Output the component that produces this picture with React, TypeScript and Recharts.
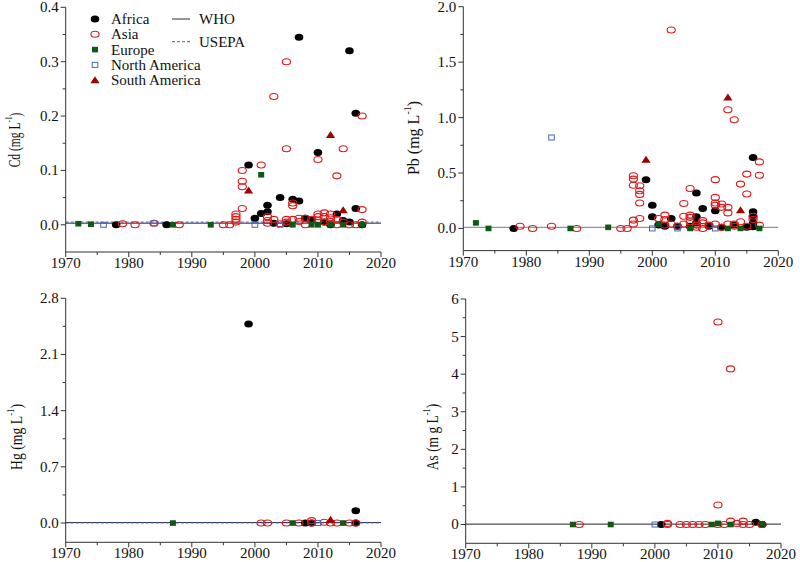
import React from 'react';
import { ScatterChart, Scatter, XAxis, YAxis, ReferenceLine, Legend } from 'recharts';

type P = [number, number];

const FONT = '"Liberation Serif", "Times New Roman", serif';
const AX = '#333';
const TXT = { fontFamily: FONT };

const regions = ['Africa', 'Asia', 'Europe', 'North America', 'South America'];
const yearTicks = [1970, 1975, 1980, 1985, 1990, 1995, 2000, 2005, 2010, 2015, 2020];
const majorYears = [1970, 1980, 1990, 2000, 2010, 2020];

// ---------- Cd ----------
const cdAfrica: P[] = [[1978,0],[1986,0],[1999,0.11],[2000,0.012],[2001,0.021],[2002,0.024],[2002,0.036],[2003,0.003],[2004,0.05],[2005,0.002],[2006,0.047],[2007,0.044],[2007,0.345],[2008,0.012],[2009,0.009],[2010,0.133],[2011,0.005],[2012,0],[2013,0.02],[2014,0.008],[2015,0.32],[2015,0.005],[2016,0.205],[2016,0.03],[2017,0]];
const cdAsia: P[] = [[1979,0.002],[1981,0],[1984,0.003],[1988,0],[1995,0],[1996,0],[1997,0.005],[1997,0.01],[1997,0.015],[1997,0.02],[1998,0.03],[1998,0.07],[1998,0.08],[1998,0.1],[2001,0.11],[2002,0.003],[2002,0.008],[2002,0.015],[2003,0.236],[2003,0.01],[2004,0.002],[2005,0.3],[2005,0.14],[2005,0.01],[2005,0.005],[2006,0.04],[2006,0.035],[2006,0.01],[2007,0.012],[2007,0.006],[2008,0],[2008,0.012],[2009,0.01],[2010,0.12],[2010,0.02],[2010,0.015],[2010,0.008],[2011,0.022],[2011,0.015],[2011,0.005],[2012,0.02],[2012,0.013],[2012,0.006],[2013,0.09],[2013,0.01],[2013,0],[2014,0.14],[2014,0.005],[2015,0],[2016,0],[2017,0.2],[2017,0.028],[2017,0.005]];
const cdEurope: P[] = [[1972,0.002],[1974,0.001],[1987,0],[1993,0],[2001,0.092],[2006,0],[2009,0],[2010,0],[2012,0],[2014,0],[2017,0]];
const cdNorthAmerica: P[] = [[1976,0],[1984,0.003],[2000,0],[2004,0]];
const cdSouthAmerica: P[] = [[1999,0.063],[2012,0.165],[2014,0.027]];
const cdTicks = [0, 0.05, 0.1, 0.15, 0.2, 0.25, 0.3, 0.35, 0.4];
const cdMajors = [0, 0.1, 0.2, 0.3, 0.4];
const cdLimits = [{ name: 'WHO', value: 0.003 }, { name: 'USEPA', value: 0.005 }];

// ---------- Pb ----------
const pbAfrica: P[] = [[1978,0],[1999,0.44],[2000,0.21],[2000,0.105],[2001,0.03],[2002,0.02],[2003,0.09],[2004,0.02],[2006,0.02],[2007,0.32],[2007,0.105],[2007,0.05],[2008,0.18],[2009,0.02],[2010,0.16],[2011,0.01],[2013,0.03],[2015,0.01],[2016,0.64],[2016,0.15],[2016,0.105],[2016,0.05],[2016,0.015]];
const pbAsia: P[] = [[1979,0.02],[1981,0],[1984,0.02],[1988,0],[1995,0],[1996,0],[1997,0.475],[1997,0.445],[1997,0.39],[1997,0.075],[1997,0.04],[1998,0.385],[1998,0.34],[1998,0.307],[1998,0.23],[1998,0.09],[2001,0.09],[2002,0.12],[2002,0.08],[2002,0.03],[2003,1.79],[2003,0.04],[2004,0.02],[2005,0.225],[2005,0.11],[2005,0.04],[2006,0.36],[2006,0.12],[2006,0.1],[2006,0.06],[2007,0.03],[2007,0.01],[2008,0.07],[2008,0.05],[2008,0],[2009,0.03],[2010,0.44],[2010,0.28],[2010,0.23],[2010,0.21],[2010,0.04],[2011,0.22],[2011,0.19],[2011,0.01],[2012,1.07],[2012,0.19],[2012,0.14],[2012,0.04],[2013,0.98],[2013,0.04],[2013,0.02],[2014,0.4],[2014,0.06],[2015,0.49],[2015,0.31],[2015,0.02],[2016,0.11],[2016,0.08],[2017,0.6],[2017,0.48],[2017,0.03]];
const pbEurope: P[] = [[1972,0.05],[1974,0],[1987,0],[1993,0.01],[2001,0.04],[2006,0],[2012,0],[2014,0],[2017,0]];
const pbNorthAmerica: P[] = [[1984,0.82],[2000,0],[2004,0],[2010,0]];
const pbSouthAmerica: P[] = [[1999,0.62],[2012,1.18],[2014,0.165]];
const pbTicks = [0, 0.25, 0.5, 0.75, 1.0, 1.25, 1.5, 1.75, 2.0];
const pbMajors = [0, 0.5, 1.0, 1.5, 2.0];
const pbLimits = [{ name: 'WHO', value: 0.01, stroke: '#7a7a7a' }];

// ---------- Hg ----------
const hgAfrica: P[] = [[1999,2.48],[2008,0],[2009,0],[2016,0.154],[2016,0]];
const hgAsia: P[] = [[2001,0],[2002,0],[2005,0],[2007,0],[2009,0.03],[2009,0],[2011,0.01],[2012,0],[2013,0],[2015,0],[2016,0]];
const hgEurope: P[] = [[1987,0],[2006,0],[2014,0]];
const hgNorthAmerica: P[] = [[2010,0]];
const hgSouthAmerica: P[] = [[2012,0.04]];
const hgTicks = [0, 0.35, 0.7, 1.05, 1.4, 1.75, 2.1, 2.45, 2.8];
const hgMajors = [0, 0.7, 1.4, 2.1, 2.8];
const hgLimits = [{ name: 'WHO', value: 0.006 }, { name: 'USEPA', value: 0.002 }];

// ---------- As ----------
const asAfrica: P[] = [[2001,0],[2016,0.06],[2017,0]];
const asAsia: P[] = [[1988,0],[2002,0.03],[2002,0],[2004,0],[2005,0],[2006,0],[2007,0],[2008,0],[2010,5.39],[2010,0.52],[2010,0],[2011,0],[2012,4.14],[2012,0.09],[2013,0.03],[2014,0.09],[2014,0],[2015,0],[2017,0]];
const asEurope: P[] = [[1987,0],[1993,0],[2009,0],[2010,0.03],[2012,0],[2017,0.02]];
const asNorthAmerica: P[] = [[2000,0]];
const asSouthAmerica: P[] = [];
const asTicks = [0, 0.5, 1, 1.5, 2, 2.5, 3, 3.5, 4, 4.5, 5, 5.5, 6];
const asMajors = [0, 1, 2, 3, 4, 5, 6];
const asLimits = [{ name: 'WHO', value: 0.01, stroke: '#222' }];

// ---------- markers ----------
const AfricaDot = (p: any) => <ellipse cx={p.cx} cy={p.cy} rx={4.3} ry={3.5} fill="#000" />;
const AsiaDot = (p: any) => <ellipse cx={p.cx} cy={p.cy} rx={4.1} ry={3.0} fill="none" stroke="#e01a1a" strokeWidth={1.1} />;
const EuropeDot = (p: any) => <rect x={p.cx - 3} y={p.cy - 2.8} width={6} height={5.6} fill="#0e5a14" />;
const NADot = (p: any) => <rect x={p.cx - 2.8} y={p.cy - 2.5} width={5.6} height={5} fill="none" stroke="#4a64b0" strokeWidth={1} />;
const SADot = (p: any) => (
  <polygon points={`${p.cx},${p.cy - 4} ${p.cx + 4.6},${p.cy + 3} ${p.cx - 4.6},${p.cy + 3}`} fill="#a00000" />
);
const shapes = [AfricaDot, AsiaDot, EuropeDot, NADot, SADot];

const limitStyle: Record<string, any> = {
  WHO: { stroke: '#2a2a3a', strokeWidth: 1 },
  USEPA: { stroke: '#4060a8', strokeWidth: 1, strokeDasharray: '3 2' },
};

const XTick = (p: any) => {
  const v = p.payload.value;
  const major = majorYears.includes(v);
  return (
    <g>
      <line x1={p.x} x2={p.x} y1={p.y} y2={p.y + (major ? 5 : 3)} stroke={AX} strokeWidth={1} />
      {major && (
        <text x={p.x} y={p.y + 16} textAnchor="middle" fontFamily={FONT} style={TXT} fontSize={15} fill="#111">
          {v}
        </text>
      )}
    </g>
  );
};

const makeYTick = (majors: number[], fmt: (v: number) => string) => (p: any) => {
  const v = p.payload.value;
  const major = majors.some((m) => Math.abs(m - v) < 1e-9);
  return (
    <g>
      <line x1={p.x} x2={p.x - (major ? 5 : 3)} y1={p.y} y2={p.y} stroke={AX} strokeWidth={1} />
      {major && (
        <text x={p.x - 7} y={p.y} dy="0.33em" textAnchor="end" fontFamily={FONT} style={TXT} fontSize={15} fill="#111">
          {fmt(v)}
        </text>
      )}
    </g>
  );
};

const AxisTitle = (p: any) => (
  <text
    transform={`translate(${p.tx},${p.ty}) rotate(-90) scale(${p.sc},1)`}
    textAnchor="middle"
    dominantBaseline="central"
    fontFamily={FONT}
    style={TXT}
    fontSize={16}
    fill="#111"
  >
    {p.sym} ({p.unit}
    <tspan dy={-6} fontSize={10}>-1</tspan>
    <tspan dy={6}>)</tspan>
  </text>
);

const legendRowsY = [19, 34.3, 49.6, 64.9, 80.2];
const LegendBox = () => (
  <svg width={400} height={95} style={{ display: 'block' }}>
    {regions.map((name, i) => {
      const Shape = shapes[i];
      const y = legendRowsY[i];
      return (
        <g key={name}>
          <Shape cx={95} cy={y} />
          <text x={111} y={y} dy="0.33em" fontFamily={FONT} style={TXT} fontSize={15} fill="#111">
            {name}
          </text>
        </g>
      );
    })}
    <line x1={172} x2={190} y1={19} y2={19} {...limitStyle.WHO} />
    <text x={199} y={19} dy="0.33em" fontFamily={FONT} style={TXT} fontSize={15} fill="#111">WHO</text>
    <line x1={172} x2={190} y1={41.7} y2={41.7} {...limitStyle.USEPA} />
    <text x={199} y={41.7} dy="0.33em" fontFamily={FONT} style={TXT} fontSize={15} fill="#111">USEPA</text>
  </svg>
);

type Limit = { name: string; value: number; stroke?: string };

type PanelProps = {
  left: number;
  top: number;
  plot: { l: number; t: number; r: number; b: number };
  series: P[][];
  yDomain: [number, number];
  yTicks: number[];
  yMajors: number[];
  fmt: (v: number) => string;
  limits: Limit[];
  title: { sym: string; unit: string; x: number; y: number; sc: number };
  legend?: boolean;
};

const W = 400;
const H = 282;
const YW = 40;
const XH = 15;

const Panel = ({ left, top, plot, series, yDomain, yTicks, yMajors, fmt, limits, title, legend }: PanelProps) => {
  const YTick = makeYTick(yMajors, fmt);
  return (
    <div style={{ position: 'absolute', left, top, width: W, height: H }}>
      <ScatterChart
        width={W}
        height={H}
        margin={{ top: plot.t, left: plot.l - YW, right: W - plot.r, bottom: H - plot.b - XH }}
      >
        <XAxis
          type="number"
          dataKey="year"
          domain={[1970, 2020]}
          ticks={yearTicks}
          interval={0}
          tickSize={0}
          tickMargin={0}
          tickLine={false}
          tick={(p: any) => <XTick {...p} />}
          axisLine={{ stroke: AX, strokeWidth: 1 }}
          height={XH}
          allowDataOverflow
        />
        <YAxis
          type="number"
          dataKey="v"
          domain={yDomain}
          ticks={yTicks}
          interval={0}
          tickSize={0}
          tickMargin={0}
          tickLine={false}
          tick={(p: any) => <YTick {...p} />}
          axisLine={{ stroke: AX, strokeWidth: 1 }}
          width={YW}
          allowDataOverflow
          label={<AxisTitle tx={title.x} ty={title.y} sc={title.sc} sym={title.sym} unit={title.unit} />}
        />
        {limits.map((lim) => (
          <ReferenceLine
            key={lim.name}
            y={lim.value}
            {...limitStyle[lim.name]}
            {...(lim.stroke ? { stroke: lim.stroke } : {})}
          />
        ))}
        {series.map((pts, i) =>
          pts.length ? (
            <Scatter
              key={regions[i]}
              name={regions[i]}
              data={pts.map(([year, v]) => ({ year, v }))}
              shape={shapes[i]}
              isAnimationActive={false}
            />
          ) : null
        )}
        {legend && (
          <Legend
            layout="vertical"
            align="center"
            verticalAlign="middle"
            content={() => <LegendBox />}
            wrapperStyle={{ left: 0, top: 0, width: 400, height: 95, margin: 0, padding: 0 }}
          />
        )}
      </ScatterChart>
    </div>
  );
};

export default function App() {
  return (
    <div style={{ position: 'absolute', left: 0, top: 0, width: 800, height: 562, background: '#fff', overflow: 'hidden' }}>
      <Panel
        left={0}
        top={0}
        plot={{ l: 65.7, t: 7.3, r: 381, b: 252 }}
        series={[cdAfrica, cdAsia, cdEurope, cdNorthAmerica, cdSouthAmerica]}
        yDomain={[-0.05, 0.4]}
        yTicks={cdTicks}
        yMajors={cdMajors}
        fmt={(v) => v.toFixed(1)}
        limits={cdLimits}
        title={{ sym: 'Cd', unit: 'mg L', x: 15, y: 140, sc: 0.72 }}
        legend
      />
      <Panel
        left={400}
        top={0}
        plot={{ l: 63.3, t: 6.7, r: 378.3, b: 250.6 }}
        series={[pbAfrica, pbAsia, pbEurope, pbNorthAmerica, pbSouthAmerica]}
        yDomain={[-0.2, 2.0]}
        yTicks={pbTicks}
        yMajors={pbMajors}
        fmt={(v) => v.toFixed(1)}
        limits={pbLimits}
        title={{ sym: 'Pb', unit: 'mg L', x: 13, y: 138, sc: 1.0 }}
      />
      <Panel
        left={0}
        top={280}
        plot={{ l: 65.7, t: 18.3, r: 381, b: 262.3 }}
        series={[hgAfrica, hgAsia, hgEurope, hgNorthAmerica, hgSouthAmerica]}
        yDomain={[-0.24, 2.8]}
        yTicks={hgTicks}
        yMajors={hgMajors}
        fmt={(v) => v.toFixed(1)}
        limits={hgLimits}
        title={{ sym: 'Hg', unit: 'mg L', x: 17, y: 157, sc: 0.86 }}
      />
      <Panel
        left={400}
        top={280}
        plot={{ l: 65.7, t: 19, r: 381, b: 263.3 }}
        series={[asAfrica, asAsia, asEurope, asNorthAmerica, asSouthAmerica]}
        yDomain={[-0.5, 6]}
        yTicks={asTicks}
        yMajors={asMajors}
        fmt={(v) => String(v)}
        limits={asLimits}
        title={{ sym: 'As', unit: 'm g L', x: 33, y: 157, sc: 0.84 }}
      />
    </div>
  );
}
